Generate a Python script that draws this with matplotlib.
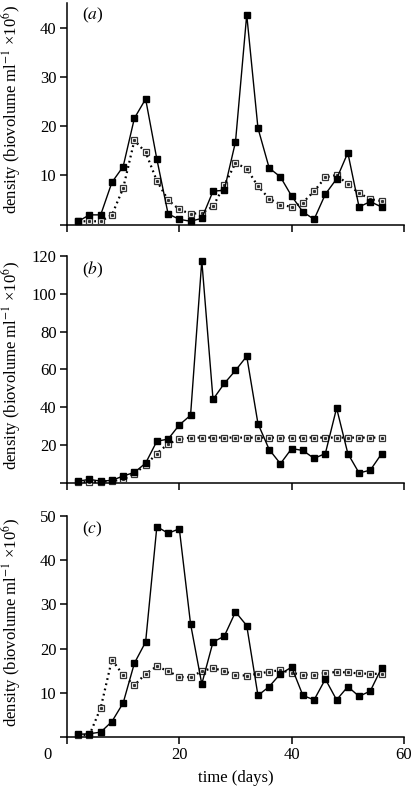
import matplotlib.pyplot as plt
from matplotlib.transforms import ScaledTranslation

plt.rcParams["font.family"] = ["Liberation Serif", "DejaVu Serif"]
plt.rcParams["mathtext.fontset"] = "stix"

days = list(range(2, 57, 2))

# panel (a)
a_filled = [0.7, 2.0, 2.0, 8.6, 11.8, 21.6, 25.5, 13.3, 2.2, 1.1, 0.7, 1.3, 6.8, 7.0,
            16.8, 42.6, 19.6, 11.5, 9.7, 5.8, 2.6, 1.1, 6.2, 9.3, 14.6, 3.6, 4.7, 3.6]
a_open = [0.7, 0.7, 0.7, 2.0, 7.4, 17.1, 14.7, 8.9, 5.0, 3.1, 2.2, 2.4, 3.7, 8.0,
          12.5, 11.4, 7.8, 5.3, 4.1, 3.6, 4.5, 6.8, 9.6, 10.1, 8.2, 6.4, 5.2, 4.8]

# panel (b)
b_filled = [1.0, 1.9, 1.0, 1.4, 3.7, 5.6, 10.5, 22.1, 23.2, 30.7, 35.8, 117.5, 44.2, 52.6,
            59.5, 67.0, 31.4, 17.7, 10.2, 18.2, 17.2, 13.0, 15.6, 39.6, 15.6, 5.3, 6.8, 15.4]
b_open = [0.7, 0.4, 0.7, 1.0, 1.9, 5.0, 9.5, 15.6, 20.7, 23.2, 24.0, 24.0, 24.0, 24.0,
          24.0, 24.0, 24.0, 24.0, 24.0, 24.0, 24.0, 24.0, 24.0, 24.0, 24.0, 24.0, 24.0, 24.0]

# panel (c)
c_filled = [0.6, 0.75, 1.1, 3.5, 7.7, 16.7, 21.5, 47.6, 46.1, 47.1, 25.6, 12.0, 21.5, 22.8,
            28.3, 25.2, 9.4, 11.4, 14.3, 15.8, 9.4, 8.4, 13.1, 8.4, 11.4, 9.2, 10.4, 15.6]
c_open = [0.45, 0.45, 6.6, 17.5, 14.0, 11.7, 14.3, 16.0, 14.9, 13.6, 13.5, 14.9, 15.6, 14.9,
          14.0, 13.9, 14.3, 14.8, 15.1, 14.5, 14.1, 14.1, 14.5, 14.7, 14.6, 14.4, 14.3, 14.3]

panels = [
    ("a", a_filled, a_open, 45, [0, 10, 20, 30, 40]),
    ("b", b_filled, b_open, 120, [0, 20, 40, 60, 80, 100, 120]),
    ("c", c_filled, c_open, 50, [0, 10, 20, 30, 40, 50]),
]
# axes boxes in figure fraction [left, bottom, width, height]
boxes = [
    [0.1622, 0.7166, 0.8160, 0.2798],
    [0.1622, 0.3909, 0.8160, 0.2863],
    [0.1622, 0.0706, 0.8160, 0.2787],
]

fig = plt.figure(figsize=(4.13, 7.93), dpi=100)

for i, ((name, filled, opened, ytop, yt), box) in enumerate(zip(panels, boxes)):
    ax = fig.add_axes(box)
    ax.plot(days, opened, color="black", lw=1.6, ls=(0, (0.8, 1.6)), zorder=2)
    ax.plot(days, opened, ls="none", marker="s", ms=4.8, mfc="white", mec="#333333",
            mew=0.9, zorder=3, clip_on=False)
    ax.plot(days, opened, ls="none", marker="s", ms=1.2, color="#333333", zorder=3.5,
            clip_on=False)
    ax.plot(days, filled, color="black", lw=1.0, marker="s", ms=4.8, mfc="black",
            mec="black", zorder=4, clip_on=False)

    ax.set_xlim(0, 60)
    ax.set_ylim(0, ytop)
    ax.set_xticks([0, 20, 40, 60])
    ax.set_yticks(yt)
    ax.set_yticklabels([""] + [str(v) for v in yt[1:]])
    for s in ["top", "right"]:
        ax.spines[s].set_visible(False)
    for s in ["left", "bottom"]:
        ax.spines[s].set_linewidth(1.1)
    ax.tick_params(direction="out", length=5, width=1.1, labelsize=12, pad=2.5)
    if i < 2:
        ax.set_xticklabels([])
    else:
        ax.set_xlabel("time (days)", fontsize=12, labelpad=5)
        fig.canvas.draw()
        lab0 = ax.get_xticklabels()[0]
        lab0.set_transform(lab0.get_transform()
                           + ScaledTranslation(-0.19, 0, fig.dpi_scale_trans))
    ax.set_ylabel(r"density (biovolume ml$^{-1}$ ×10$^{6}$)", fontsize=12, labelpad=5)
    ax.yaxis.set_label_coords(-0.13, 0.52)
    ax.text(0.045, 0.985, "(" + r"$\it{" + name + "}$" + ")", transform=ax.transAxes,
            fontsize=12.5, va="top", ha="left")

fig.savefig("out.png", dpi=100)
